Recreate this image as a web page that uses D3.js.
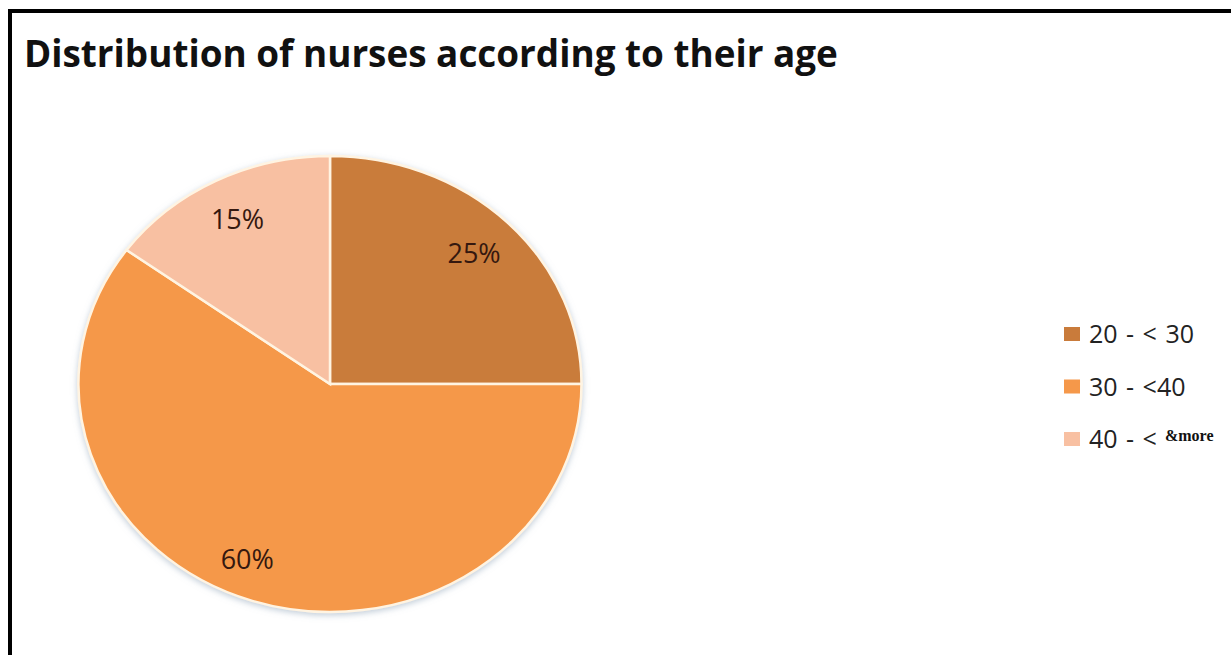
<!DOCTYPE html>
<html>
<head>
<meta charset="utf-8">
<script src="https://cdnjs.cloudflare.com/ajax/libs/d3/7.8.5/d3.min.js"></script>
<style>
  html, body { margin: 0; padding: 0; background: #fff; }
  svg { display: block; }
</style>
</head>
<body>
<div id="chart"></div>
<script>
// chart data
const categories = ['20 - < 30', '30 - <40', '40 - <'];
const values = [25, 60, 15];
const sliceColors = ['#C97B3B', '#F5984A', '#F8C0A2'];
const labelText = ['25%', '60%', '15%'];
const title = 'Distribution of nurses according to their age';

const width = 1231, height = 655;
const cx = 330, cy = 384, radius = 228, stretch = 1.103;

const svg = d3.select('#chart')
  .append('svg')
  .attr('width', width)
  .attr('height', height);

// frame: top and left black edges
svg.append('rect').attr('x', 8).attr('y', 9).attr('width', width - 8).attr('height', 4).attr('fill', '#000');
svg.append('rect').attr('x', 8).attr('y', 9).attr('width', 4).attr('height', height - 9).attr('fill', '#000');

// title, fitted to the reference width
const titleEl = svg.append('text')
  .attr('x', 24)
  .attr('y', 67)
  .style('font-family', '"Open Sans", sans-serif')
  .style('font-weight', 'bold')
  .style('font-size', '30px')
  .attr('fill', '#111')
  .text(title);
const tw = titleEl.node().getComputedTextLength();
titleEl.style('font-size', (30 * 814 / tw).toFixed(2) + 'px');

// soft shadow under the pie
const defs = svg.append('defs');
const shadow = defs.append('filter').attr('id', 'pie-shadow')
  .attr('x', '-10%').attr('y', '-10%').attr('width', '120%').attr('height', '120%');
shadow.append('feDropShadow')
  .attr('dx', 0).attr('dy', 2)
  .attr('stdDeviation', 3)
  .attr('flood-color', '#8fa3b8')
  .attr('flood-opacity', 0.55);

const pie = d3.pie().value(d => d).sort(null);
const arc = d3.arc().innerRadius(0).outerRadius(radius);
const labelArc = d3.arc().innerRadius(radius * 0.81).outerRadius(radius * 0.81);

const pieGroup = svg.append('g')
  .attr('transform', `translate(${cx},${cy}) scale(${stretch},1)`);

const arcs = pie(values);

pieGroup.append('g')
  .attr('filter', 'url(#pie-shadow)')
  .selectAll('path')
  .data(arcs)
  .enter()
  .append('path')
  .attr('d', arc)
  .attr('fill', (d, i) => sliceColors[i])
  .attr('stroke', '#FFF4E2')
  .attr('stroke-width', 2.5)
  .attr('vector-effect', 'non-scaling-stroke');

// percentage labels (Excel places the big slice label a bit further out sideways)
svg.append('g')
  .selectAll('text')
  .data(arcs)
  .enter()
  .append('text')
  .attr('x', d => {
    const c = labelArc.centroid(d);
    return cx + c[0] * (d.value > 50 ? 1.45 : stretch);
  })
  .attr('y', d => cy + labelArc.centroid(d)[1])
  .attr('dy', '0.35em')
  .attr('text-anchor', 'middle')
  .style('font-family', '"Open Sans", sans-serif')
  .style('font-size', '27px')
  .attr('fill', '#35180F')
  .text((d, i) => labelText[i]);

// legend
const legend = svg.append('g')
  .attr('transform', 'translate(1064, 334)');

categories.forEach((c, i) => {
  const row = legend.append('g')
    .attr('transform', `translate(0, ${i * 52.5})`);

  row.append('rect')
    .attr('x', 0)
    .attr('y', -7)
    .attr('width', 16)
    .attr('height', 14)
    .attr('fill', sliceColors[i]);

  const t = row.append('text')
    .attr('x', 25)
    .attr('y', 9)
    .style('font-family', '"Open Sans", sans-serif')
    .style('font-size', '25px')
    .style('word-spacing', '2px')
    .attr('fill', '#222')
    .text(c);

  if (i === 2) {
    const end = 25 + t.node().getComputedTextLength();
    row.append('text')
      .attr('x', end + 8)
      .attr('y', 2)
      .style('font-family', '"Liberation Serif", serif')
      .style('font-weight', 'bold')
      .style('font-size', '16px')
      .attr('fill', '#111')
      .text('&more');
  }
});
</script>
</body>
</html>
